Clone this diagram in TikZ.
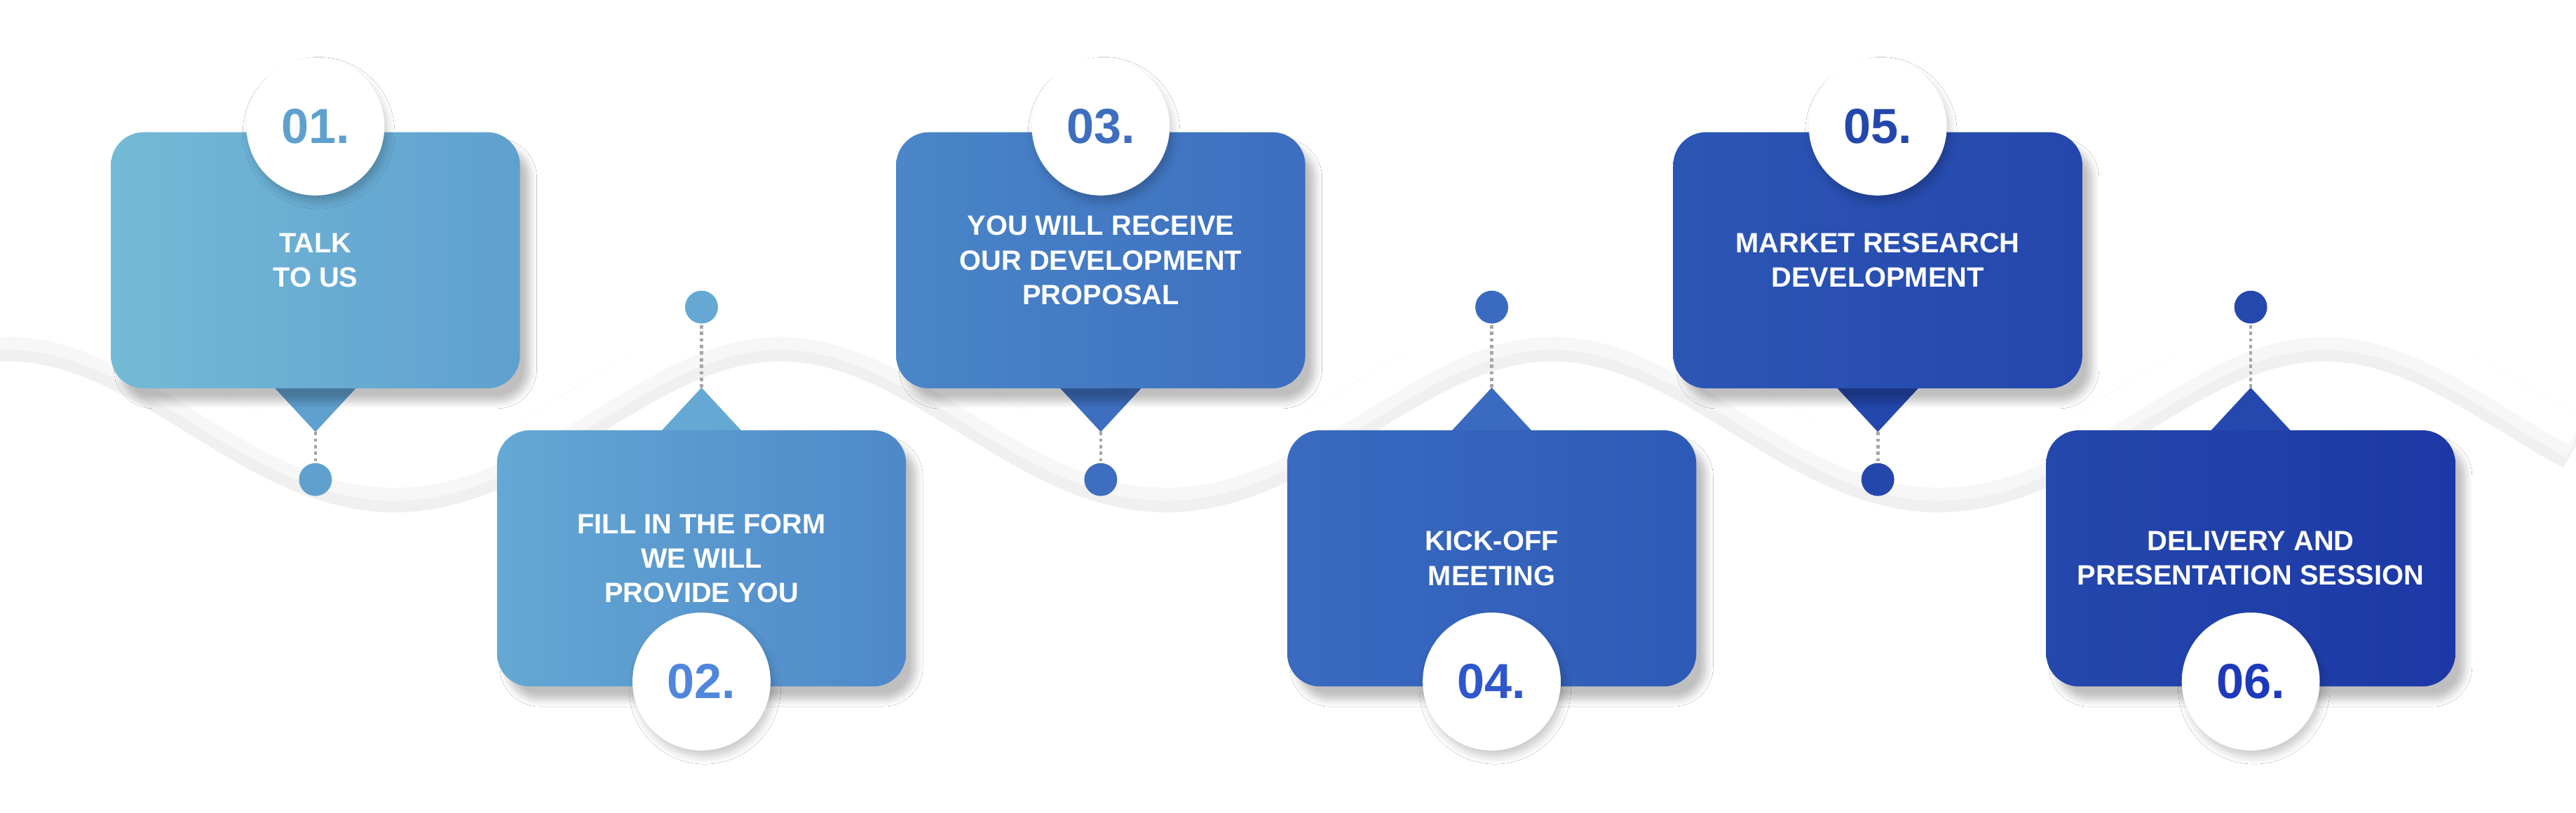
\documentclass[tikz,border=0pt]{standalone}
\usepackage{fontspec}
\setmainfont{Liberation Sans}
\usetikzlibrary{shadows.blur}
\begin{document}
\begin{tikzpicture}[x=0.5pt,y=-0.5pt,
 box/.style={rectangle,rounded corners=10pt,minimum width=124.5pt,minimum height=78pt,draw=none,
   text=white,font=\bfseries\fontsize{8.5}{10.5}\selectfont,align=center,
   blur shadow={shadow xshift=3pt,shadow yshift=-4pt,shadow blur steps=8,shadow opacity=25}},
 num/.style={circle,fill=white,minimum size=42pt,inner sep=0pt,font=\bfseries\fontsize{15}{15}\selectfont,
   blur shadow={shadow xshift=1pt,shadow yshift=-2pt,shadow blur steps=6,shadow opacity=20}},
 dot/.style={circle,minimum size=10pt,inner sep=0pt},
 conn/.style={densely dotted,gray!70,line width=1pt}]
\useasboundingbox (0,0) rectangle (1568,495);
\fill[white] (0,0) rectangle (1568,495);
% wave
\draw[gray!12,line width=16pt,domain=0:1568,samples=200] plot (\x,{250-46*cos((\x-5)/470*360)});
\draw[gray!6,line width=12pt,domain=0:1568,samples=200] plot (\x,{247-46*cos((\x-5)/470*360)});
\draw[white,line width=9pt,domain=0:1568,samples=200] plot (\x,{242-46*cos((\x-5)/470*360)});
\definecolor{c1a}{HTML}{74BAD6}\definecolor{c1b}{HTML}{5FA0CF}
\definecolor{c2a}{HTML}{64A8D3}\definecolor{c2b}{HTML}{4E88CA}
\definecolor{c3a}{HTML}{4A86C8}\definecolor{c3b}{HTML}{3D6EBF}
\definecolor{c4a}{HTML}{3A6BC0}\definecolor{c4b}{HTML}{2E5AB7}
\definecolor{c5a}{HTML}{2C56B5}\definecolor{c5b}{HTML}{2447AD}
\definecolor{c6a}{HTML}{2448AD}\definecolor{c6b}{HTML}{1C38A6}
\foreach \i/\cx/\ca/\cb/\txt in {1/192/c1a/c1b/{TALK\\TO US},3/670/c3a/c3b/{YOU WILL RECEIVE\\OUR DEVELOPMENT\\PROPOSAL},5/1143/c5a/c5b/{MARKET RESEARCH\\DEVELOPMENT}}{
  \fill[\cb] (\cx-25,236) -- (\cx+25,236) -- (\cx,263) coordinate (t\i) -- cycle;
  \node[box,left color=\ca,right color=\cb] (b\i) at (\cx,158.5) {\txt};
  \node[dot,fill=\cb] (d\i) at (\cx,292) {};
  \draw[conn] (t\i) -- (d\i);
  \node[num,text=\cb] (n\i) at (\cx,77) {0\i.};
}
\foreach \i/\cx/\ca/\cb/\txt in {2/427/c2a/c2b/{FILL IN THE FORM\\WE WILL\\PROVIDE YOU},4/908/c4a/c4b/{KICK-OFF\\MEETING},6/1370/c6a/c6b/{DELIVERY AND\\PRESENTATION SESSION}}{
  \fill[\ca] (\cx-25,263) -- (\cx+25,263) -- (\cx,236) coordinate (t\i) -- cycle;
  \node[box,left color=\ca,right color=\cb] (b\i) at (\cx,340) {\txt};
  \node[dot,fill=\ca] (d\i) at (\cx,187) {};
  \draw[conn] (t\i) -- (d\i);
  \node[num,text=\ca!80!blue] (n\i) at (\cx,415) {0\i.};
}
\end{tikzpicture}
\end{document}
